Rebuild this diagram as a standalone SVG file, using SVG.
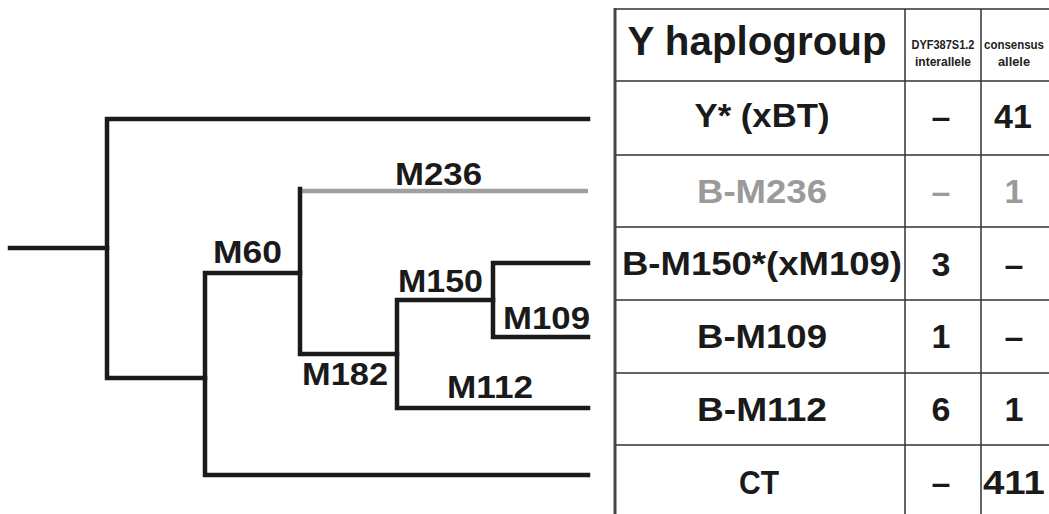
<svg xmlns="http://www.w3.org/2000/svg" width="1049" height="514" viewBox="0 0 1049 514">
<style>
.br{stroke:#1a1a1a;stroke-width:4.5;fill:none;stroke-linecap:square;stroke-linejoin:miter}
.gr{stroke:#a0a0a0;stroke-width:4.5;fill:none;stroke-linecap:butt}
.lbl{font-family:"Liberation Sans",Arial,sans-serif;font-weight:bold;font-size:31px;fill:#1a1a1a}
.cell{font-family:"Liberation Sans",Arial,sans-serif;font-weight:bold;font-size:34px;fill:#1a1a1a;text-anchor:middle}
.hdr{font-family:"Liberation Sans",Arial,sans-serif;font-weight:bold;font-size:40px;fill:#1a1a1a;text-anchor:middle}
.sm{font-family:"Liberation Sans",Arial,sans-serif;font-weight:bold;font-size:12px;fill:#222;text-anchor:middle}
.g{fill:#9a9a9a}
.tl{stroke:#333;stroke-width:1.5;fill:none}
</style>
<rect width="1049" height="514" fill="#fff"/>
<g id="connectors">
<path class="br" d="M10 248 H107"/>
<path class="br" d="M588 119 H107 V378 H205"/>
<path class="br" d="M300 273 H205 V475 H588"/>
<path class="gr" d="M300 191 H588"/>
<path class="br" d="M300 189 V354 H397"/>
<path class="br" d="M493 300 H397 V408 H588"/>
<path class="br" d="M588 263 H493 V337 H588"/>
</g>
<g id="labels">
<text class="lbl" x="395" y="185" textLength="87" lengthAdjust="spacingAndGlyphs">M236</text>
<text class="lbl" x="213" y="263" textLength="69" lengthAdjust="spacingAndGlyphs">M60</text>
<text class="lbl" x="398" y="292" textLength="85" lengthAdjust="spacingAndGlyphs">M150</text>
<text class="lbl" x="503" y="329" textLength="87" lengthAdjust="spacingAndGlyphs">M109</text>
<text class="lbl" x="302" y="385" textLength="86" lengthAdjust="spacingAndGlyphs">M182</text>
<text class="lbl" x="447" y="398" textLength="86" lengthAdjust="spacingAndGlyphs">M112</text>
</g>
<g id="table">
<path class="tl" d="M614 9 H1049 M614 81 H1049 M614 155 H1049 M614 227 H1049 M614 300 H1049 M614 373 H1049 M614 445 H1049 M905 9 V514 M981 9 V514"/>
<path d="M615 8 V514" stroke="#444" stroke-width="3" fill="none"/>
<text class="hdr" x="757" y="55" textLength="259" lengthAdjust="spacingAndGlyphs">Y haplogroup</text>
<text class="sm" x="943" y="49" textLength="63" lengthAdjust="spacingAndGlyphs">DYF387S1.2</text>
<text class="sm" x="943" y="66" textLength="56" lengthAdjust="spacingAndGlyphs">interallele</text>
<text class="sm" x="1014" y="49" textLength="60" lengthAdjust="spacingAndGlyphs">consensus</text>
<text class="sm" x="1014" y="66" textLength="32" lengthAdjust="spacingAndGlyphs">allele</text>
<g id="row1"><text class="cell" x="762" y="127" textLength="135" lengthAdjust="spacingAndGlyphs">Y* (xBT)</text><text class="cell" x="941" y="128">–</text><text class="cell" x="1013" y="128">41</text></g>
<g id="row2"><text class="cell g" x="762" y="203" textLength="130" lengthAdjust="spacingAndGlyphs">B-M236</text><text class="cell g" x="941" y="203">–</text><text class="cell g" x="1014" y="203">1</text></g>
<g id="row3"><text class="cell" x="762" y="275" textLength="280" lengthAdjust="spacingAndGlyphs">B-M150*(xM109)</text><text class="cell" x="941" y="276">3</text><text class="cell" x="1014" y="276">–</text></g>
<g id="row4"><text class="cell" x="762" y="348" textLength="130" lengthAdjust="spacingAndGlyphs">B-M109</text><text class="cell" x="941" y="348">1</text><text class="cell" x="1014" y="348">–</text></g>
<g id="row5"><text class="cell" x="762" y="421" textLength="130" lengthAdjust="spacingAndGlyphs">B-M112</text><text class="cell" x="941" y="421">6</text><text class="cell" x="1014" y="421">1</text></g>
<g id="row6"><text class="cell" x="759" y="494" textLength="40" lengthAdjust="spacingAndGlyphs">CT</text><text class="cell" x="941" y="494">–</text><text class="cell" x="1014" y="494" textLength="62" lengthAdjust="spacingAndGlyphs">411</text></g>
</g>
</svg>
